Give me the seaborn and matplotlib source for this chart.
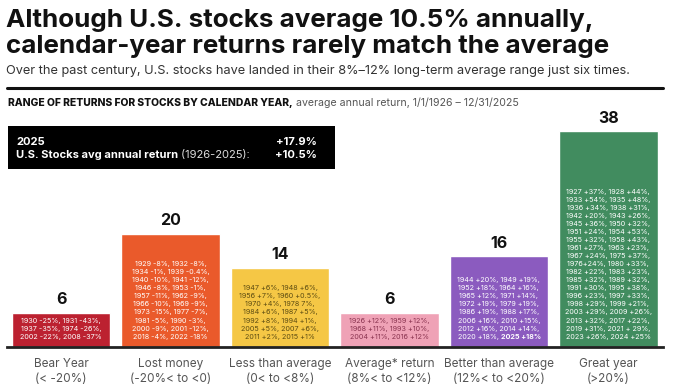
import numpy as np
import pandas as pd
import matplotlib
matplotlib.use("Agg")
import matplotlib.pyplot as plt
from matplotlib.patches import Rectangle
from matplotlib.lines import Line2D
from matplotlib.text import Annotation
import seaborn as sns

sns.set_style("white")
plt.rcParams['font.family'] = ['Inter', 'DejaVu Sans']

# data
categories = ["Bear Year\n(< -20%)", "Lost money\n(-20%< to <0)", "Less than average\n(0< to <8%)",
              "Average* return\n(8%< to <12%)", "Better than average\n(12%< to <20%)", "Great year\n(>20%)"]
counts = [6, 20, 14, 6, 16, 38]
colors = ["#BC2130", "#EA5A2B", "#F5C745", "#EFA2B6", "#8B5BBF", "#418C5F"]
text_colors = ["white", "white", "#5e4d12", "#8a3450", "white", "white"]

bear_years = ["1930 -25%", "1931 -43%", "1937 -35%", "1974 -26%", "2002 -22%", "2008 -37%"]
lost_years = ["1929 -8%", "1932 -8%", "1934 -1%", "1939 -0.4%", "1940 -10%", "1941 -12%",
              "1946 -8%", "1953 -1%", "1957 -11%", "1962 -9%", "1966 -10%", "1969 -9%",
              "1973 -15%", "1977 -7%", "1981 -5%", "1990 -3%", "2000 -9%", "2001 -12%",
              "2018 -4%", "2022 -18%"]
less_years = ["1947 +6%", "1948 +6%", "1956 +7%", "1960 +0.5%", "1970 +4%", "1978 7%",
              "1984 +6%", "1987 +5%", "1992 +8%", "1994 +1%", "2005 +5%", "2007 +6%",
              "2011 +2%", "2015 +1%"]
avg_years = ["1926 +12%", "1959 +12%", "1968 +11%", "1993 +10%", "2004 +11%", "2016 +12%"]
better_years = ["1944 +20%", "1949 +19%", "1952 +18%", "1964 +16%", "1965 +12%", "1971 +14%",
                "1972 +19%", "1979 +19%", "1986 +19%", "1988 +17%", "2006 +16%", "2010 +15%",
                "2012 +16%", "2014 +14%", "2020 +18%", "2025 +18%"]
great_years = ["1927 +37%", "1928 +44%", "1933 +54%", "1935 +48%", "1936 +34%", "1938 +31%",
               "1942 +20%", "1943 +26%", "1945 +36%", "1950 +32%", "1951 +24%", "1954 +53%",
               "1955 +32%", "1958 +43%", "1961 +27%", "1963 +23%", "1967 +24%", "1975 +37%",
               "1976+24%", "1980 +33%", "1982 +22%", "1983 +23%", "1985 +32%", "1989 +32%",
               "1991 +30%", "1995 +38%", "1996 +23%", "1997 +33%", "1998 +29%", "1999 +21%",
               "2003 +29%", "2009 +26%", "2013 +32%", "2017 +22%", "2019 +31%", "2021 + 29%",
               "2023 +26%", "2024 +25%"]
year_lists = [bear_years, lost_years, less_years, avg_years, better_years, great_years]
highlight = "2025 +18%"

box_rows = [("2025", "", "+17.9%"), ("U.S. Stocks avg annual return", " (1926-2025):", "+10.5%")]

df = pd.DataFrame({"cat": categories, "count": counts})

W, H = 680, 392
fig = plt.figure(figsize=(W / 100, H / 100), dpi=100)
ax = fig.add_axes([6.5 / W, 45 / H, 656.5 / W, 227 / H])

sns.barplot(data=df, x="cat", y="count", hue="cat", palette=colors, legend=False,
            width=0.9, saturation=1, ax=ax)
ax.set_xlim(-0.5, 5.5)
ax.set_ylim(0, 40)
ax.set_xlabel("")
ax.set_ylabel("")
ax.set_yticks([])
for s in ["top", "left", "right"]:
    ax.spines[s].set_visible(False)
ax.spines["bottom"].set_linewidth(2)
ax.spines["bottom"].set_color("#222222")
ax.tick_params(axis="x", length=0, pad=8, labelsize=8.5, labelcolor="#555555")
for lab in ax.get_xticklabels():
    lab.set_linespacing(1.3)

step = 5.8  # points between lines in the bars
fs_bar = 5.2
for i, (n, yrs) in enumerate(zip(counts, year_lists)):
    ax.text(i, n + 1.0, str(n), ha="center", va="bottom", fontsize=11.5,
            fontweight="bold", color="#111111")
    lines = [", ".join(yrs[k:k + 2]) for k in range(0, len(yrs), 2)]
    lines = [l + "," for l in lines[:-1]] + [lines[-1]]
    for k, line in enumerate(reversed(lines)):
        if k == 0 and highlight in line:
            left = line.replace(highlight, "")
            t = ax.annotate(left, xy=(i + 0.02, 1.3), xytext=(0, 0), textcoords="offset points",
                            ha="right", va="bottom", fontsize=fs_bar, color=text_colors[i])
            ax.annotate(highlight, xy=(1, 0), xycoords=t, ha="left", va="bottom",
                        fontsize=fs_bar, fontweight="bold", color=text_colors[i])
            continue
        ax.annotate(line, xy=(i, 1.3), xytext=(0, k * step), textcoords="offset points",
                    ha="center", va="bottom", fontsize=fs_bar, color=text_colors[i])

# title block
fig.text(6 / W, 1 - 27 / H, "Although U.S. stocks average 10.5% annually,",
         ha="left", va="baseline", fontsize=18.7, fontweight="bold", color="#111111")
fig.text(6 / W, 1 - 53 / H, "calendar-year returns rarely match the average",
         ha="left", va="baseline", fontsize=18.7, fontweight="bold", color="#111111")
fig.text(6 / W, 1 - 71 / H, "Over the past century, U.S. stocks have landed in their 8%\u201312% long-term average range just six times.",
         ha="left", va="center", fontsize=9.2, color="#333333")
fig.add_artist(Line2D([6.5 / W, 663 / W], [1 - 88 / H, 1 - 88 / H], color="#111111", lw=2.2))

t = fig.text(8 / W, 1 - 103 / H, "RANGE OF RETURNS FOR STOCKS BY CALENDAR YEAR,", ha="left", va="center",
             fontsize=7.4, fontweight="heavy", color="#111111")
fig.add_artist(Annotation(" average annual return, 1/1/1926 \u2013 12/31/2025", xy=(1, 0), xycoords=t,
                          ha="left", va="bottom", fontsize=7.6, color="#555555"))

# black box
fig.add_artist(Rectangle((8 / W, 1 - 169 / H), 327 / W, 43 / H, transform=fig.transFigure,
                         facecolor="black", edgecolor="none"))
for r, (bold_txt, reg_txt, val) in enumerate(box_rows):
    yy = 1 - (142 + 13.5 * r) / H
    tb = fig.text(16 / W, yy, bold_txt, ha="left", va="center", fontsize=8,
                  fontweight="bold", color="white")
    if reg_txt:
        fig.add_artist(Annotation(reg_txt, xy=(1, 0), xycoords=tb, ha="left", va="bottom",
                                  fontsize=8, color="#dddddd"))
    fig.text(317 / W, yy, val, ha="right", va="center", fontsize=8,
             fontweight="bold", color="white")

fig.savefig("out.png", dpi=100)
